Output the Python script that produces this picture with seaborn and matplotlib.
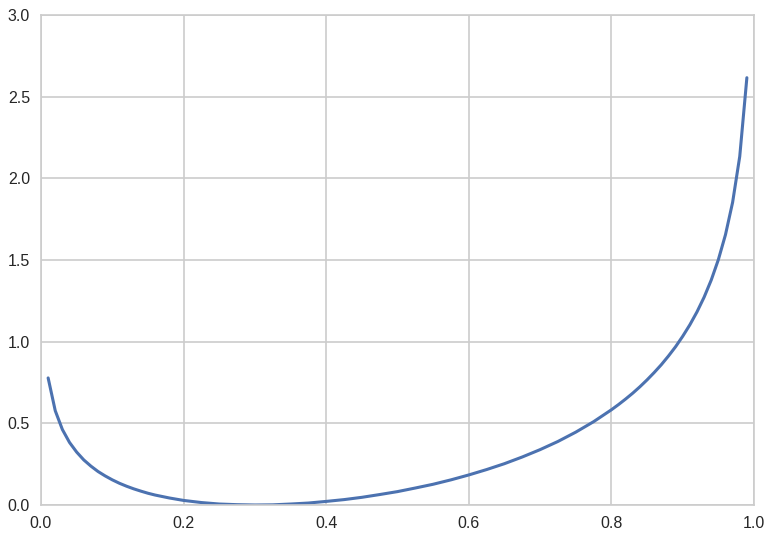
# KL divergence style curve, recreated with seaborn
import numpy as np
import pandas as pd
import matplotlib
matplotlib.use("Agg")
import matplotlib.pyplot as plt
import seaborn as sns

# values
p = [0.01, 0.02, 0.03, 0.04, 0.05, 0.06, 0.07, 0.08, 0.09, 0.10,
     0.11, 0.12, 0.13, 0.14, 0.15, 0.16, 0.18, 0.20, 0.225, 0.25,
     0.275, 0.30, 0.325, 0.35, 0.375, 0.40, 0.425, 0.45, 0.475, 0.50,
     0.525, 0.55, 0.575, 0.60, 0.625, 0.65, 0.675, 0.70, 0.725, 0.75,
     0.775, 0.80, 0.81, 0.82, 0.83, 0.84, 0.85, 0.86, 0.87, 0.88,
     0.89, 0.90, 0.91, 0.92, 0.93, 0.94, 0.95, 0.96, 0.97, 0.98, 0.99]
kl = [0.778, 0.577, 0.462, 0.383, 0.324, 0.276, 0.238, 0.205, 0.178, 0.154,
      0.133, 0.115, 0.099, 0.085, 0.072, 0.061, 0.043, 0.028, 0.015, 0.006,
      0.002, 0.000, 0.001, 0.006, 0.012, 0.022, 0.033, 0.047, 0.064, 0.082,
      0.104, 0.127, 0.154, 0.184, 0.217, 0.253, 0.294, 0.339, 0.389, 0.446,
      0.510, 0.583, 0.615, 0.649, 0.685, 0.724, 0.766, 0.811, 0.859, 0.912,
      0.969, 1.033, 1.103, 1.182, 1.272, 1.377, 1.502, 1.655, 1.853, 2.134, 2.616]

df = pd.DataFrame({'p': p, 'kl': kl})

sns.set_theme(style="whitegrid")
plt.rcParams['font.family'] = ['Liberation Sans', 'DejaVu Sans']
plt.rcParams['axes.edgecolor'] = '#cccccc'
plt.rcParams['grid.color'] = '#cccccc'

fig = plt.figure(figsize=(7.73, 5.39), dpi=100)
ax = fig.add_axes([41 / 773, 1 - 505 / 539, (754 - 41) / 773, (505 - 15) / 539])

sns.lineplot(data=df, x='p', y='kl', ax=ax, color='#4C72B0', linewidth=2.2)

ax.set_xlim(0, 1)
ax.set_ylim(0, 3)
ax.set_xticks([0.0, 0.2, 0.4, 0.6, 0.8, 1.0])
ax.set_yticks([0.0, 0.5, 1.0, 1.5, 2.0, 2.5, 3.0])
ax.set_xticklabels(['0.0', '0.2', '0.4', '0.6', '0.8', '1.0'])
ax.set_yticklabels(['0.0', '0.5', '1.0', '1.5', '2.0', '2.5', '3.0'])
ax.tick_params(labelsize=11.5, colors='#262626', length=0, pad=8)
ax.grid(True, linewidth=1.2)
for s in ax.spines.values():
    s.set_linewidth(1.2)
ax.set_xlabel('')
ax.set_ylabel('')

fig.savefig('out.png', dpi=100)
